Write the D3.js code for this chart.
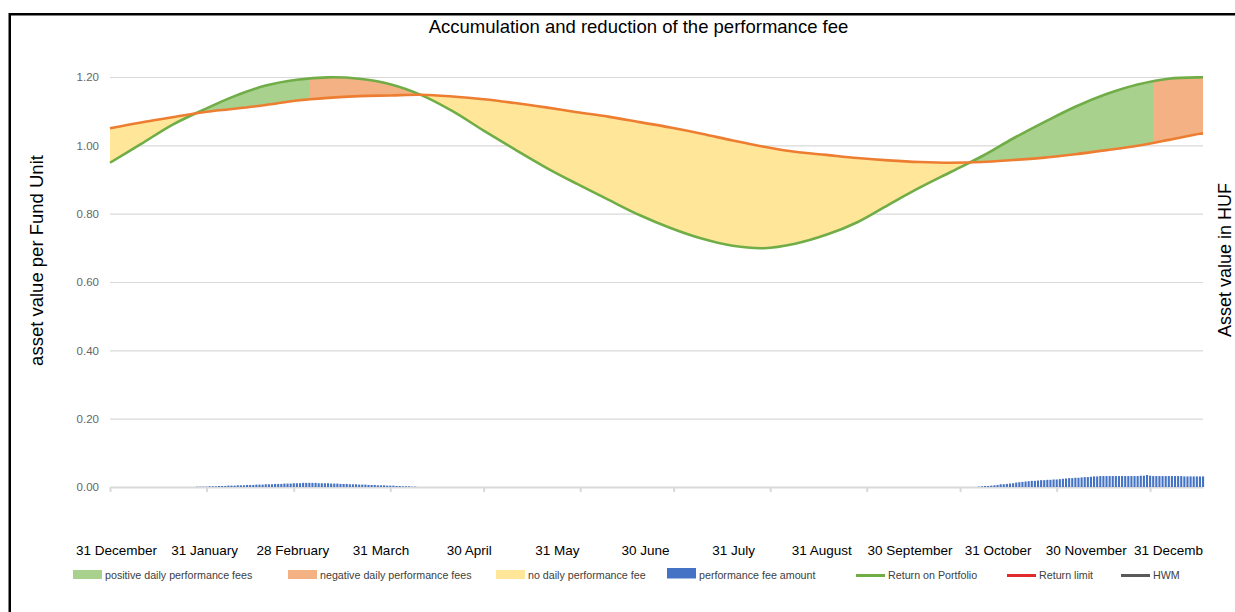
<!DOCTYPE html>
<head>
  <meta charset="utf-8">
  <style>
    body { margin: 0; background: #fff; }
    text { font-family: "Liberation Sans", Arial, sans-serif; }
    .grid line { stroke: #d9d9d9; stroke-width: 1.2; }
    .grid text { fill: #666; font-size: 11.5px; }
    .axis--x path, .axis--x line { stroke: #d9d9d9; stroke-width: 2; }
    .month { font-size: 13.5px; fill: #000; }
    .legend text { font-size: 10.7px; fill: #404040; }
    .line { fill: none; stroke-width: 2.6; }
  </style>
  <script src="https://d3js.org/d3.v7.min.js"></script>
</head>

<body>
  <script>
  // sampled every 10 days
  var dates = ["2018-12-31","2019-01-10","2019-01-20","2019-01-30","2019-02-09","2019-02-19",
    "2019-03-01","2019-03-11","2019-03-21","2019-03-31","2019-04-10","2019-04-20",
    "2019-04-30","2019-05-10","2019-05-20","2019-05-30","2019-06-09","2019-06-19",
    "2019-06-29","2019-07-09","2019-07-19","2019-07-29","2019-08-08","2019-08-18",
    "2019-08-28","2019-09-07","2019-09-17","2019-09-27","2019-10-07","2019-10-17",
    "2019-10-27","2019-11-06","2019-11-16","2019-11-26","2019-12-06","2019-12-16","2019-12-17"];

  var portfolio = [0.949,1.004,1.060,1.104,1.144,1.175,1.192,1.199,1.195,1.179,1.147,1.100,
    1.043,0.988,0.935,0.887,0.841,0.796,0.758,0.727,0.706,0.699,0.712,0.738,
    0.775,0.826,0.876,0.922,0.968,1.020,1.068,1.113,1.150,1.178,1.195,1.199,1.199];

  var limit = [1.050,1.067,1.082,1.097,1.107,1.118,1.131,1.139,1.144,1.146,1.148,1.143,
    1.135,1.124,1.111,1.097,1.084,1.068,1.052,1.034,1.014,0.996,0.981,0.972,
    0.963,0.956,0.951,0.949,0.951,0.957,0.964,0.974,0.986,0.999,1.016,1.034,1.035];

  // periods where the portfolio is above the limit but the daily fee is negative
  var negativeFeePeriods = [["2019-03-05","2019-04-08"],["2019-12-01","2019-12-17"]];

  // daily performance fee amount
  var feeStartSpring = "2019-01-28";
  var feeSpring = [0.001,0.001,0.001,0.001,0.002,0.002,0.002,
    0.003,0.003,0.003,0.004,0.004,0.004,0.005,
    0.005,0.005,0.006,0.006,0.006,0.007,0.007,
    0.007,0.008,0.008,0.008,0.009,0.009,0.009,
    0.010,0.010,0.010,0.011,0.011,0.011,0.012,
    0.012,0.012,0.012,0.012,0.011,0.011,0.011,
    0.011,0.010,0.010,0.010,0.009,0.009,0.009,
    0.008,0.008,0.008,0.007,0.007,0.007,0.006,
    0.006,0.006,0.005,0.005,0.005,0.004,0.004,
    0.004,0.003,0.003,0.002,0.002,0.002,0.001,0.001];

  var feeStartAutumn = "2019-10-06";
  var feeAutumn = [0.001,0.002,0.003,0.003,0.004,0.005,0.006,
    0.008,0.008,0.009,0.010,0.011,0.013,0.014,
    0.015,0.016,0.017,0.018,0.018,0.019,0.020,
    0.020,0.021,0.021,0.022,0.022,0.023,0.024,
    0.025,0.026,0.026,0.027,0.027,0.028,0.029,
    0.029,0.030,0.031,0.031,0.032,0.032,0.032,
    0.032,0.032,0.032,0.032,0.032,0.032,0.032,
    0.032,0.032,0.032,0.033,0.033,0.035,0.033,
    0.032,0.032,0.032,0.032,0.032,0.032,0.032,
    0.032,0.032,0.032,0.031,0.031,0.031,0.031,
    0.031,0.031,0.031];

  var monthLabels = ["31 December","31 January","28 February","31 March","30 April","31 May",
    "30 June","31 July","31 August","30 September","31 October","30 November","31 December"];

  var yTicks = [0, 0.2, 0.4, 0.6, 0.8, 1.0, 1.2];

  var legendItems = [
    ["positive daily performance fees", "#a9d18e", "rect"],
    ["negative daily performance fees", "#f4b183", "rect"],
    ["no daily performance fee", "#ffe699", "rect"],
    ["performance fee amount", "#4472c4", "bar"],
    ["Return on Portfolio", "#70ad47", "line"],
    ["Return limit", "#e02b2b", "line"],
    ["HWM", "#595959", "line"]
  ];
  var legendX = [73, 288, 496, 667, 856, 1007, 1121];

  var parse = d3.timeParse("%Y-%m-%d");
  var data = dates.map(function(d, i) {
    return { date: parse(d), p: portfolio[i], l: limit[i] };
  });

  var margin = {top: 77, left: 110},
      width = 1093,
      height = 410;

  var curve = d3.curveCatmullRom.alpha(0.5);

  var svg = d3.select("body").append("svg")
      .attr("width", 1235)
      .attr("height", 612);

  var x = d3.scaleTime()
      .domain([parse(dates[0]), parse(dates[dates.length - 1])])
      .range([0, width]);
  var y = d3.scaleLinear()
      .domain([0, 1.2])
      .range([height, 0]);

  var g = svg.append("g")
      .attr("transform", "translate(" + margin.left + "," + margin.top + ")");

  // grid + y labels
  g.append("g")
      .attr("class", "grid")
      .call(d3.axisLeft(y).tickValues(yTicks).tickSize(-width).tickPadding(11)
        .tickFormat(d3.format(".2f")))
      .call(function(s) { s.select(".domain").remove(); })
      .selectAll(".tick line").attr("stroke", "#d9d9d9")
      .filter(function(d) { return d === 0; }).remove();

  // clip paths for the difference areas
  var defs = svg.append("defs");
  defs.append("clipPath").attr("id", "below")
    .append("path")
      .attr("d", d3.area().curve(curve)
        .x(function(d) { return x(d.date); })
        .y0(height)
        .y1(function(d) { return y(d.p); })(data));
  defs.append("clipPath").attr("id", "above")
    .append("path")
      .attr("d", d3.area().curve(curve)
        .x(function(d) { return x(d.date); })
        .y0(-20)
        .y1(function(d) { return y(d.p); })(data));
  var neg = defs.append("clipPath").attr("id", "negative");
  negativeFeePeriods.forEach(function(p) {
    neg.append("rect")
      .attr("x", x(parse(p[0])))
      .attr("width", x(parse(p[1])) - x(parse(p[0])))
      .attr("y", -20)
      .attr("height", height + 40);
  });
  defs.append("clipPath").attr("id", "labels")
    .append("rect").attr("x", -110).attr("y", 0).attr("width", width + 110).attr("height", 612);

  var aboveLimit = d3.area().curve(curve)
      .x(function(d) { return x(d.date); })
      .y0(function(d) { return y(d.l); })
      .y1(-20);
  var belowLimit = d3.area().curve(curve)
      .x(function(d) { return x(d.date); })
      .y0(function(d) { return y(d.l); })
      .y1(height);

  g.append("g").attr("clip-path", "url(#above)")
    .append("path").attr("d", belowLimit(data)).attr("fill", "#ffe699");

  var pos = g.append("g").attr("clip-path", "url(#below)");
  pos.append("path").attr("d", aboveLimit(data)).attr("fill", "#a9d18e");
  pos.append("g").attr("clip-path", "url(#negative)")
    .append("path").attr("d", aboveLimit(data)).attr("fill", "#f4b183");

  // x axis
  var monthEnds = [parse(dates[0])].concat(
    d3.timeMonth.range(parse("2019-02-01"), parse("2019-12-02"))
      .map(function(d) { return d3.timeDay.offset(d, -1); }));
  g.append("g")
      .attr("class", "axis axis--x")
      .attr("transform", "translate(0," + height + ")")
      .call(d3.axisBottom(x).tickValues(monthEnds).tickSize(5).tickSizeOuter(0).tickFormat(""));

  // fee bars
  var bars = [];
  [[feeStartSpring, feeSpring], [feeStartAutumn, feeAutumn]].forEach(function(s) {
    s[1].forEach(function(v, i) {
      bars.push({ date: d3.timeDay.offset(parse(s[0]), i), v: v });
    });
  });
  g.selectAll(".fee")
    .data(bars)
    .enter().append("rect")
      .attr("class", "fee")
      .attr("x", function(d) { return x(d.date) - 1; })
      .attr("width", 2.1)
      .attr("y", function(d) { return y(d.v); })
      .attr("height", function(d) { return height - y(d.v); })
      .attr("fill", "#4472c4");

  // lines
  g.append("path")
      .attr("class", "line")
      .attr("stroke", "#70ad47")
      .attr("d", d3.line().curve(curve)
        .x(function(d) { return x(d.date); })
        .y(function(d) { return y(d.p); })(data));
  g.append("path")
      .attr("class", "line")
      .attr("stroke", "#ed7d31")
      .attr("d", d3.line().curve(curve)
        .x(function(d) { return x(d.date); })
        .y(function(d) { return y(d.l); })(data));

  // month labels
  var xl = d3.scalePoint().domain(d3.range(monthLabels.length)).range([6.5, 1064.5]);
  g.append("g").attr("clip-path", "url(#labels)")
    .selectAll("text")
    .data(monthLabels)
    .enter().append("text")
      .attr("class", "month")
      .attr("x", function(d, i) { return xl(i); })
      .attr("y", 478)
      .attr("text-anchor", "middle")
      .text(function(d) { return d; });

  // titles
  svg.append("text")
      .attr("x", 638.5).attr("y", 33)
      .attr("text-anchor", "middle")
      .attr("font-size", "18.5px")
      .text("Accumulation and reduction of the performance fee");
  svg.append("text")
      .attr("transform", "translate(43,260.5) rotate(-90)")
      .attr("text-anchor", "middle")
      .attr("font-size", "18.5px")
      .text("asset value per Fund Unit");
  svg.append("text")
      .attr("transform", "translate(1231,260) rotate(-90)")
      .attr("text-anchor", "middle")
      .attr("font-size", "18px")
      .text("Asset value in HUF");

  // legend
  var legend = svg.append("g").attr("class", "legend");
  legendItems.forEach(function(it, i) {
    var lx = legendX[i];
    if (it[2] === "rect") {
      legend.append("rect").attr("x", lx).attr("y", 570).attr("width", 29).attr("height", 9).attr("fill", it[1]);
    } else if (it[2] === "bar") {
      legend.append("rect").attr("x", lx).attr("y", 568).attr("width", 29).attr("height", 10.5).attr("fill", it[1]);
    } else {
      legend.append("line").attr("x1", lx).attr("x2", lx + 29).attr("y1", 575.5).attr("y2", 575.5)
        .attr("stroke", it[1]).attr("stroke-width", 3);
    }
    legend.append("text").attr("x", lx + 32).attr("y", 578.5).text(it[0]);
  });

  // chart frame
  svg.append("rect")
      .attr("x", 9.75).attr("y", 14.25)
      .attr("width", 1300).attr("height", 700)
      .attr("fill", "none")
      .attr("stroke", "#000")
      .attr("stroke-width", 2.5);
  </script>
</body>

</html>
